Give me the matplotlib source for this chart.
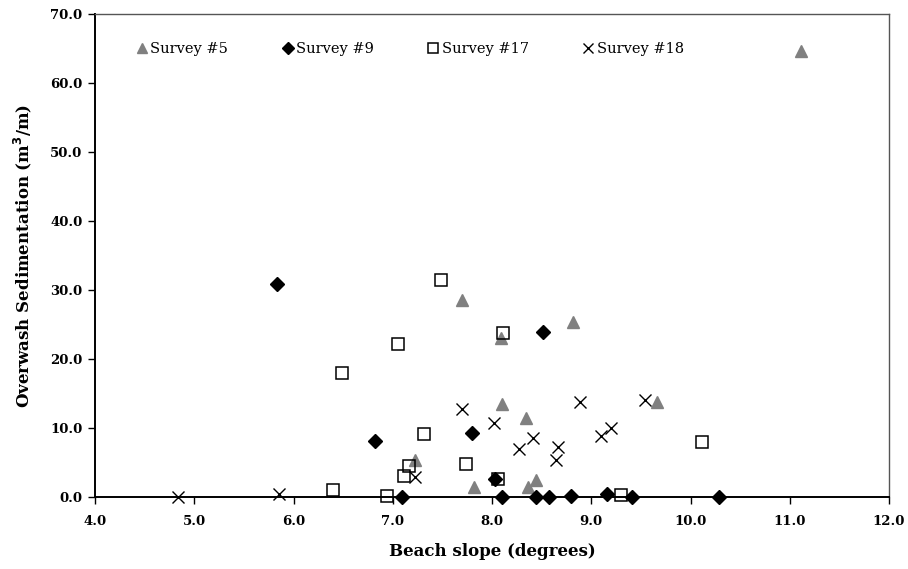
import matplotlib
matplotlib.use("Agg")
import matplotlib.pyplot as plt

plt.rcParams['font.family'] = ['DejaVu Serif']

s5_x = [11.11, 7.70, 8.82, 8.09, 8.10, 8.34, 9.66, 7.22, 7.82, 8.44, 8.36]
s5_y = [64.7, 28.5, 25.3, 23.1, 13.5, 11.4, 13.8, 5.4, 1.5, 2.5, 1.4]

s9_x = [5.83, 8.51, 6.82, 7.80, 8.03, 7.09, 8.10, 8.44, 8.57, 8.80, 9.155, 9.41, 10.29]
s9_y = [30.9, 23.9, 8.1, 9.3, 2.6, 0.0, 0.0, 0.0, 0.0, 0.2, 0.5, 0.0, 0.0]

s17_x = [7.49, 7.05, 6.49, 8.11, 7.31, 7.16, 7.11, 6.40, 6.94, 7.74, 8.06, 9.30, 10.12]
s17_y = [31.5, 22.2, 17.9, 23.7, 9.1, 4.5, 3.1, 1.0, 0.2, 4.8, 2.6, 0.3, 8.0]

s18_x = [4.84, 5.85, 7.22, 7.70, 8.02, 8.89, 9.54, 8.41, 8.27, 8.67, 8.64, 9.10, 9.20]
s18_y = [0.0, 0.5, 2.9, 12.7, 10.7, 13.7, 14.1, 8.5, 7.0, 7.3, 5.4, 8.8, 10.0]

x_ticks = [4.0, 5.0, 6.0, 7.0, 8.0, 9.0, 10.0, 11.0, 12.0]
y_ticks = [0.0, 10.0, 20.0, 30.0, 40.0, 50.0, 60.0, 70.0]

fig = plt.figure(figsize=(9.08, 5.69), dpi=100)
ax = fig.add_axes([95/908, 1-497/569, 794/908, 483/569])

ax.plot(s5_x, s5_y, linestyle='none', marker='^', ms=9, color='#808080',
        mec='#808080', label='Survey #5', clip_on=False, zorder=3)
ax.plot(s9_x, s9_y, linestyle='none', marker='D', ms=7, color='black',
        label='Survey #9', clip_on=False, zorder=4)
ax.plot(s17_x, s17_y, linestyle='none', marker='s', ms=9, mfc='none',
        mec='black', mew=1.1, label='Survey #17', clip_on=False, zorder=3)
ax.plot(s18_x, s18_y, linestyle='none', marker='x', ms=9, color='black',
        mew=1.0, label='Survey #18', clip_on=False, zorder=3)

ax.set_xlim(4, 12)
ax.set_ylim(0, 70)
ax.set_xticks(x_ticks)
ax.set_yticks(y_ticks)
ax.set_xticklabels([f"{v:.1f}" for v in x_ticks], fontweight='bold', fontsize=9.5)
ax.set_yticklabels([f"{v:.1f}" for v in y_ticks], fontweight='bold', fontsize=9.5)
ax.tick_params(axis='x', direction='out', length=5, width=1, pad=8)
ax.tick_params(axis='y', direction='out', length=5, width=1, pad=4)

for s in ['left', 'bottom']:
    ax.spines[s].set_linewidth(1.4)
    ax.spines[s].set_color('black')
for s in ['top', 'right']:
    ax.spines[s].set_linewidth(1.0)
    ax.spines[s].set_color('#555555')

ax.set_xlabel('Beach slope (degrees)', fontweight='bold', fontsize=12, labelpad=11)
ax.set_ylabel('Overwash Sedimentation (m$^\\mathbf{3}$/m)', fontweight='bold', fontsize=12, labelpad=12)

ax.legend(loc='upper left', bbox_to_anchor=(0.034, 0.97), ncol=4, frameon=False,
          fontsize=10.5, handletextpad=0.1, columnspacing=3.6, handlelength=0.95,
          markerscale=0.85)

fig.savefig('out.png', dpi=100)
